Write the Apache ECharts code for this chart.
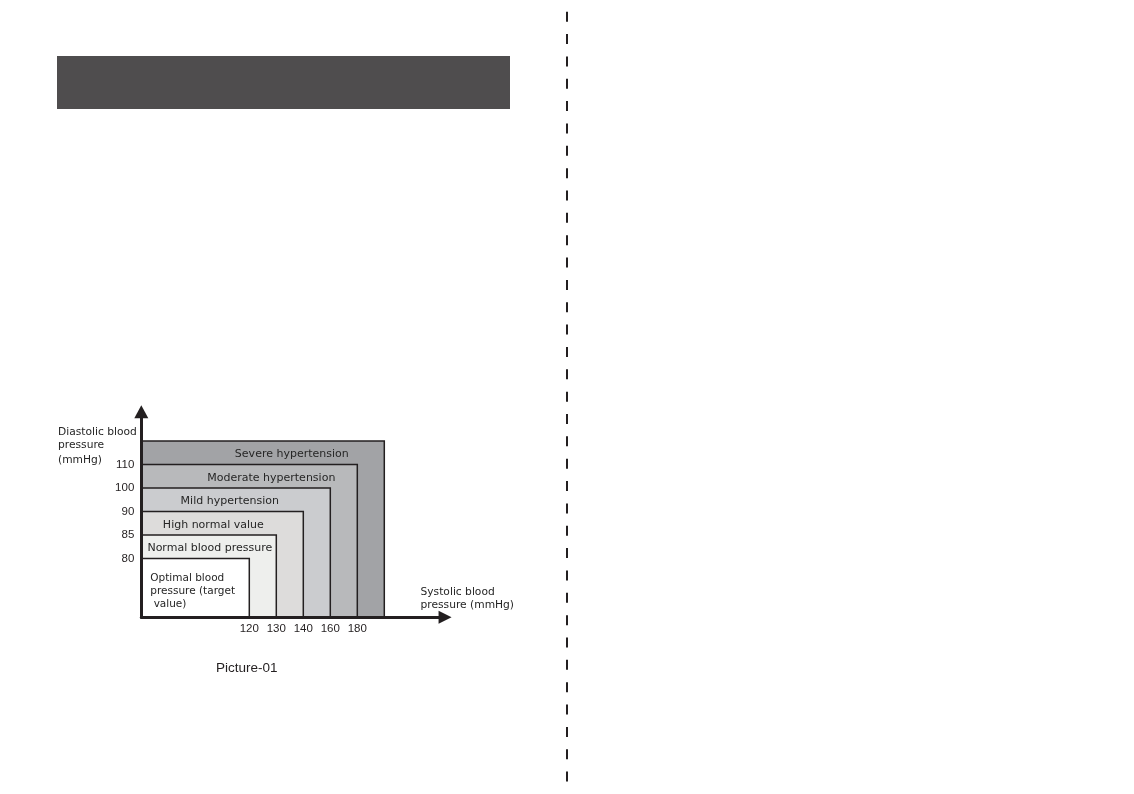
<!DOCTYPE html>
<html>
<head>
<meta charset="utf-8">
<title>Picture-01</title>
<script src="https://cdn.jsdelivr.net/npm/echarts@6/dist/echarts.min.js"></script>
<style>
  html, body { margin: 0; padding: 0; background: #ffffff; }
  #chart { width: 1134px; height: 794px; }
</style>
</head>
<body>
<div id="chart"></div>
<script>
// tick labels on the two axes
const systolicTicks = ['120', '130', '140', '160', '180'];
const diastolicTicks = ['80', '85', '90', '100', '110'];

// blood pressure classes, innermost first
const classLabels = [
    'Optimal blood\npressure (target\n value)',
    'Normal blood pressure',
    'High normal value',
    'Mild hypertension',
    'Moderate hypertension',
    'Severe hypertension'
];

// fill of each class
const bandColors = ['#ffffff', '#eeefed', '#dddcdb', '#cbcccf', '#b8b9bb', '#a2a3a6'];

// the axes are schematic (ordinal), a tick sits on a rank, not on its value
const X_FIRST = 4;     // empty slots before 120
const Y_FIRST = 2.5;   // empty slots below 80
// small horizontal nudges of the class labels, like the printed figure
const LABEL_DX = [0, 1, -9, -6, 22, 29];

const INK = '#231f20';
const WORD_FONT = '"DejaVu Sans", sans-serif';
const NUM_FONT = '"Liberation Sans", Arial, sans-serif';

window.addEventListener('load', function () {
    const chart = echarts.init(document.getElementById('chart'), null, { renderer: 'canvas' });

    // one rectangle per class, from the origin to (systolic limit, diastolic limit)
    const boxes = classLabels.map(function (name, i) {
        return {
            name: name,
            value: [X_FIRST + i, Y_FIRST + i, i === 0 ? 0 : Y_FIRST + i - 1, i]
        };
    }).reverse(); // biggest first so the smaller ones sit on top

    function renderBox(params, api) {
        const cs = params.coordSys;
        const x0 = cs.x;
        const y0 = cs.y + cs.height;
        const i = api.value(3);
        const corner = api.coord([api.value(0), api.value(1)]);
        const lower = api.coord([api.value(0), api.value(2)]);

        const children = [{
            type: 'rect',
            shape: { x: x0, y: corner[1], width: corner[0] - x0, height: y0 - corner[1] },
            style: { fill: bandColors[i], stroke: INK, lineWidth: 1.5 }
        }];

        if (i === 0) {
            children.push({
                type: 'text',
                style: {
                    text: classLabels[i],
                    x: x0 + 9,
                    y: corner[1] + 13.5,
                    align: 'left',
                    verticalAlign: 'top',
                    lineHeight: 12.7,
                    fontFamily: WORD_FONT,
                    fontSize: 10.5,
                    fill: '#262626'
                }
            });
        } else {
            children.push({
                type: 'text',
                style: {
                    text: classLabels[i],
                    x: x0 + (corner[0] - x0) / 2 + LABEL_DX[i],
                    y: (corner[1] + lower[1]) / 2 + 1.5,
                    align: 'center',
                    verticalAlign: 'middle',
                    fontFamily: WORD_FONT,
                    fontSize: 11,
                    fill: '#262626'
                }
            });
        }
        return { type: 'group', children: children };
    }

    const option = {
        backgroundColor: '#ffffff',
        animation: false,
        grid: {
            left: 141.3,
            top: 411.7,
            width: 303.75,
            height: 205.6,
            containLabel: false,
            outerBoundsMode: 'none'
        },
        xAxis: {
            type: 'value',
            min: 0,
            max: 11.25,
            interval: 1,
            z: 5,
            splitLine: { show: false },
            axisTick: { show: false },
            axisLine: {
                show: true,
                onZero: false,
                symbol: ['none', 'triangle'],
                symbolSize: [13, 13],
                lineStyle: { color: INK, width: 3 }
            },
            axisLabel: {
                margin: 6,
                color: INK,
                fontFamily: NUM_FONT,
                fontSize: 11.5,
                showMinLabel: true,
                showMaxLabel: true,
                formatter: function (v) {
                    const k = v - X_FIRST;
                    return (Number.isInteger(k) && k >= 0 && k < systolicTicks.length) ? systolicTicks[k] : '';
                }
            }
        },
        yAxis: {
            type: 'value',
            min: 0,
            max: 8.75,
            interval: 0.5,
            z: 5,
            splitLine: { show: false },
            axisTick: { show: false },
            axisLine: {
                show: true,
                onZero: false,
                symbol: ['none', 'triangle'],
                symbolSize: [14, 13],
                lineStyle: { color: INK, width: 3 }
            },
            axisLabel: {
                margin: 7,
                color: INK,
                fontFamily: NUM_FONT,
                fontSize: 11.5,
                formatter: function (v) {
                    const k = v - Y_FIRST;
                    return (Number.isInteger(k) && k >= 0 && k < diastolicTicks.length) ? diastolicTicks[k] : '';
                }
            }
        },
        series: [{
            type: 'custom',
            name: 'classes',
            renderItem: renderBox,
            data: boxes,
            z: 2,
            silent: true
        }],
        graphic: [
            // dark heading bar
            {
                type: 'rect',
                shape: { x: 57, y: 56, width: 453, height: 53 },
                style: { fill: '#4f4d4e' },
                silent: true
            },
            // fold line
            {
                type: 'line',
                shape: { x1: 567, y1: 11.7, x2: 567, y2: 782 },
                style: { stroke: INK, lineWidth: 2, lineDash: [10, 12.35] },
                silent: true
            },
            {
                type: 'text',
                left: 58,
                top: 426,
                style: {
                    text: 'Diastolic blood\npressure',
                    fontFamily: WORD_FONT,
                    fontSize: 10.7,
                    lineHeight: 13,
                    fill: '#262626'
                }
            },
            {
                type: 'text',
                left: 58,
                top: 454,
                style: {
                    text: '(mmHg)',
                    fontFamily: WORD_FONT,
                    fontSize: 10.7,
                    lineHeight: 13,
                    fill: '#262626'
                }
            },
            {
                type: 'text',
                left: 420.5,
                top: 586,
                style: {
                    text: 'Systolic blood\npressure (mmHg)',
                    fontFamily: WORD_FONT,
                    fontSize: 10.7,
                    lineHeight: 12.7,
                    fill: '#262626'
                }
            },
            {
                type: 'text',
                x: 246.7,
                y: 668,
                style: {
                    text: 'Picture-01',
                    align: 'center',
                    verticalAlign: 'middle',
                    fontFamily: NUM_FONT,
                    fontSize: 13.5,
                    fill: INK
                }
            }
        ]
    };

    chart.setOption(option);
});
</script>
</body>
</html>
